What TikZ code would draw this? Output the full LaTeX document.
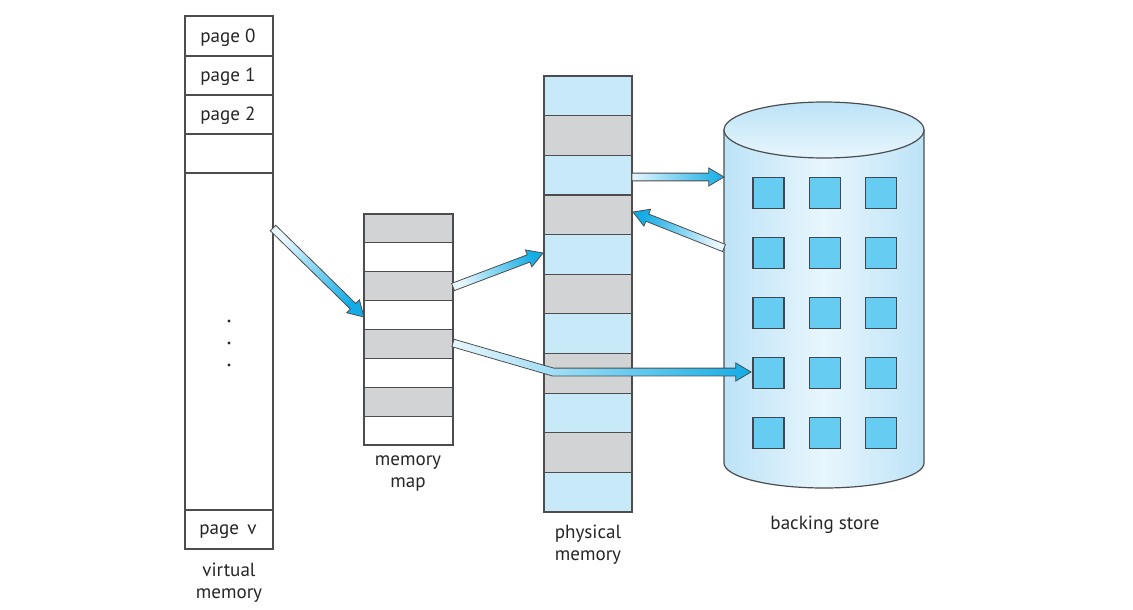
\documentclass[tikz,border=0pt]{standalone}
\usepackage{fontspec}
\setmainfont{PT Sans}
\usetikzlibrary{calc}
\definecolor{edge}{HTML}{4D4D4F}
\definecolor{cellgray}{HTML}{D1D3D4}
\definecolor{cellblue}{HTML}{C7E9F8}
\definecolor{sqfill}{HTML}{66CCF2}
\definecolor{sqedge}{HTML}{3B4A55}
\definecolor{cylA}{HTML}{BCE3F7}
\definecolor{cylB}{HTML}{E8F6FD}
\definecolor{arrA}{HTML}{E8F6FD}
\definecolor{arrB}{HTML}{12ADE6}
\newcommand\blockarrow[3]{%
  \coordinate (ba-n) at ($(#2)!11.5pt!(#1)$);
  \shade[barrow, shading angle=#3]
    ($(#1)!2.9pt!90:(#2)$) -- ($(ba-n)!2.9pt!90:(#2)$) -- ($(ba-n)!6.8pt!90:(#2)$) -- (#2)
    -- ($(ba-n)!6.8pt!-90:(#2)$) -- ($(ba-n)!2.9pt!-90:(#2)$) -- ($(#1)!2.9pt!-90:(#2)$) -- cycle;}
\begin{document}
\begin{tikzpicture}[x=0.75pt,y=-0.75pt,
  box/.style={draw=edge, line width=0.9pt},
  sqbox/.style={draw=sqedge, line width=0.8pt, fill=sqfill},
  barrow/.style={draw=edge, line width=0.6pt, line join=miter, top color=arrB, bottom color=arrA},
  lbl/.style={font=\fontsize{14.3}{16.5}\selectfont, text=black!85, inner sep=0pt, align=center}]
\useasboundingbox (0,0) rectangle (1133,610);

% virtual memory
\draw[box, fill=white] (185,16) rectangle (273,549);
\foreach \y in {56,95,134,173,510} \draw[box] (185,\y) -- (273,\y);
\node[lbl] (tp0) at (228,38) {page 0};
\node[lbl] (tp1) at (228,77) {page 1};
\node[lbl] (tp2) at (228,116) {page 2};
\node[lbl] (tpv) at (228,532) {page\, v};
\foreach \y/\n in {321/d1,343/d2,365/d3} \fill[black!85] (229,\y) circle[radius=1.6] coordinate (\n);
\node[lbl] (tvm) at (229,583) {virtual\\memory};

% memory map
\draw[box, fill=white] (364,214) rectangle (453,445);
\foreach \i in {0,2,4,6} \draw[box, fill=cellgray] (364,{214+\i*28.875}) rectangle (453,{214+(\i+1)*28.875});
\draw[box] (364,214) rectangle (453,445);
\node[lbl] (tmm) at (408,474) {memory\\map};

% physical memory
\draw[box, fill=cellblue] (544,76) rectangle (632,512);
\foreach \i in {1,3,5,7,9} \draw[box, fill=cellgray] (544,{76+\i*39.64}) rectangle (632,{76+(\i+1)*39.64});
\draw[box] (544,76) rectangle (632,512);
\node[lbl] (tpm) at (588,545) {physical\\memory};

% backing store
\shade[draw=edge, line width=0.9pt, left color=cylA, right color=cylA, middle color=cylB]
  (724,130) -- (724,463) arc[start angle=180, end angle=0, x radius=100, y radius=25] -- (924,130) -- cycle;
\shade[draw=edge, line width=0.9pt, top color=cylA, bottom color=cylB] (824,130) ellipse[x radius=100, y radius=28];
\foreach \cx in {768.5,825,881} \foreach \cy in {193,253,313,373,433}
  \draw[sqbox] ({\cx-15.5},{\cy-15.5}) rectangle ++(31,31);
\node[lbl] (tbs) at (825,525) {backing store};

% arrows
\coordinate (a1s) at (273,228); \coordinate (a1e) at (364,317);
\coordinate (a2s) at (453,287); \coordinate (a2e) at (543,253);
\coordinate (a3s) at (632,177); \coordinate (a3e) at (724,177);
\coordinate (a4s) at (724,248); \coordinate (a4e) at (633,212);
\blockarrow{a1s}{a1e}{-134.4}
\blockarrow{a2s}{a2e}{-69.3}
\blockarrow{a3s}{a3e}{-90}
\blockarrow{a4s}{a4e}{68.4}
\coordinate (a5s) at (453,343); \coordinate (a5b) at (553,372); \coordinate (a5e) at (751,372);
\shade[barrow, left color=arrA, right color=arrB]
  ($(a5s)!2.9pt!90:(a5b)$) -- ($(a5b)+(0.8,-3.9)$) -- ($(a5e)+(-15.3,-3.9)$) -- ($(a5e)+(-15.3,-9.1)$) -- (a5e)
  -- ($(a5e)+(-15.3,9.1)$) -- ($(a5e)+(-15.3,3.9)$) -- ($(a5b)+(-0.8,3.9)$) -- ($(a5s)!2.9pt!-90:(a5b)$) -- cycle;
\end{tikzpicture}
\end{document}
